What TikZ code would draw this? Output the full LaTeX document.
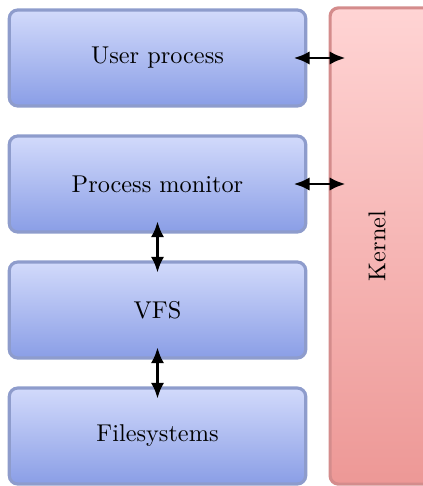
\documentclass[tikz,border=0pt]{standalone}
\usetikzlibrary{arrows.meta}
\definecolor{bluetop}{RGB}{210,218,251}
\definecolor{bluebot}{RGB}{138,158,230}
\definecolor{blueedge}{RGB}{142,156,204}
\definecolor{redtop}{RGB}{255,212,212}
\definecolor{redbot}{RGB}{237,152,150}
\definecolor{rededge}{RGB}{212,140,140}
\begin{document}
\begin{tikzpicture}[x=0.4115pt,y=-0.4115pt,
  blk/.style={draw=blueedge,line width=1.3pt,rounded corners=3.5pt,top color=bluetop,bottom color=bluebot,minimum width=122pt,minimum height=39.5pt,inner sep=0pt},
  kern/.style={draw=rededge,line width=1.3pt,rounded corners=3.5pt,top color=redtop,bottom color=redbot,minimum width=45pt,minimum height=196pt,inner sep=0pt},
  link/.style={{Latex[length=6.5pt,width=5.5pt]}-{Latex[length=6.5pt,width=5.5pt]},line width=1.2pt}]
\useasboundingbox (0,0) rectangle (423,486);
\node[blk] (user) at (157.5,58) {User process};
\node[blk] (pm) at (157.5,184) {Process monitor};
\node[blk] (vfs) at (157.5,310) {VFS};
\node[blk] (fs) at (157.5,436) {Filesystems};
\node[kern,anchor=west] (kernel) at (328.5,246) {};
\node[rotate=90] (klabel) at (377,246) {Kernel};
\draw[link] ([xshift=-5.6pt]user.east) -- ([xshift=7pt]kernel.west |- user.east);
\draw[link] ([xshift=-5.6pt]pm.east) -- ([xshift=7pt]kernel.west |- pm.east);
\draw[link] ([yshift=5pt]pm.south) -- ([yshift=-5pt]vfs.north);
\draw[link] ([yshift=5pt]vfs.south) -- ([yshift=-5pt]fs.north);
\end{tikzpicture}
\end{document}
